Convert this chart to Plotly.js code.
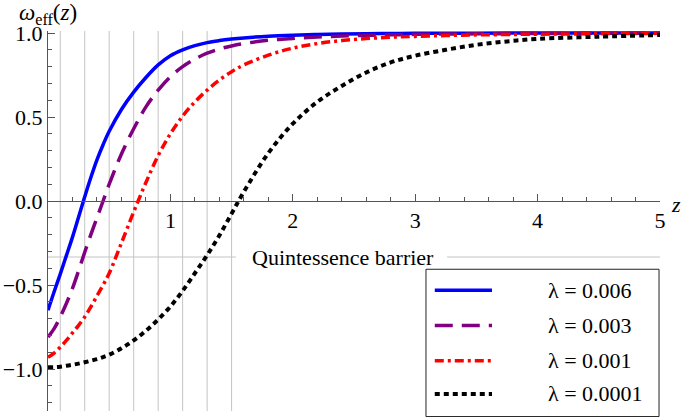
<!DOCTYPE html>
<html>
<head>
<meta charset="utf-8">
<script src="https://cdn.plot.ly/plotly-3.0.1.min.js"></script>
<style>html,body{margin:0;padding:0;background:#fff;}</style>
</head>
<body>
<div id="chart" style="width:685px;height:417px;"></div>
<script>
// ---- data ----
const z = [0,0.05,0.1,0.15,0.2,0.25,0.3,0.35,0.4,0.45,0.5,0.6,0.7,0.8,0.9,1.0,1.1,1.2,1.3,1.4,1.5,1.6,1.8,2.0,2.2,2.4,2.6,2.8,3.0,3.25,3.5,3.75,4.0,4.5,5.0];
const w006 = [-0.65,-0.54,-0.435,-0.325,-0.215,-0.095,0.025,0.14,0.245,0.335,0.415,0.545,0.648,0.735,0.81,0.865,0.9,0.925,0.943,0.955,0.964,0.971,0.981,0.987,0.991,0.994,0.996,0.997,0.998,0.999,0.999,0.9995,1.0,1.0,1.0];
const w003 = [-0.81,-0.76,-0.69,-0.61,-0.52,-0.415,-0.305,-0.20,-0.10,0.0,0.10,0.28,0.43,0.56,0.66,0.74,0.80,0.845,0.88,0.905,0.923,0.937,0.957,0.968,0.976,0.982,0.986,0.989,0.992,0.994,0.995,0.996,0.997,0.998,0.999];
const w001 = [-0.93,-0.905,-0.87,-0.83,-0.785,-0.74,-0.69,-0.63,-0.565,-0.50,-0.43,-0.25,-0.065,0.11,0.27,0.40,0.505,0.59,0.66,0.72,0.77,0.81,0.868,0.91,0.937,0.955,0.967,0.975,0.98,0.985,0.989,0.991,0.993,0.996,0.998];
const w0001 = [-0.99,-0.989,-0.986,-0.981,-0.975,-0.968,-0.96,-0.951,-0.941,-0.929,-0.915,-0.877,-0.83,-0.772,-0.705,-0.628,-0.535,-0.43,-0.322,-0.205,-0.075,0.055,0.285,0.46,0.59,0.685,0.765,0.825,0.865,0.90,0.93,0.95,0.965,0.978,0.988];
const seriesNames = ['λ = 0.006','λ = 0.003','λ = 0.001','λ = 0.0001'];
const xTickVals = [1,2,3,4,5];
const xTickText = ['1','2','3','4','5'];
const yTickVals = [-1,-0.5,0,0.5,1];
const yTickText = ['\u22121.0','\u22120.5','0.0','0.5','1.0'];
const gridZ = [0.1,0.3,0.5,0.7,0.9,1.1,1.3,1.5];
const barrierW = -1/3;
const barrierLabel = 'Quintessence barrier';

// ---- styles ----
const FONT = 'Liberation Serif';
const styles = [
  {color:'#0000ff', width:3.5, dash:'solid'},
  {color:'#800080', width:3.5, dash:'18px,9px'},
  {color:'#ff0000', width:3.5, dash:'9px,4px,3px,4px'},
  {color:'#000000', width:4, dash:'5px,4px'}
];
const seriesData = [w006, w003, w001, w0001];

const traces = seriesData.map((ys, i) => ({
  x: z, y: ys, type:'scatter', mode:'lines', name: seriesNames[i],
  line: {color: styles[i].color, width: styles[i].width, dash: styles[i].dash, shape:'spline', smoothing:1},
  showlegend:false, hoverinfo:'skip'
}));

// legend drawn on an overlay axis pair in paper-like units
const legRows = [0.3175, 0.2249, 0.1323, 0.0450];
const legX0 = 0.632, legX1 = 0.7255, legTextX = 0.8137;
seriesData.forEach((ys, i) => {
  traces.push({
    x:[legX0, legX1], y:[legRows[i], legRows[i]], xaxis:'x2', yaxis:'y2',
    type:'scatter', mode:'lines',
    line:{color: styles[i].color, width: styles[i].width, dash: styles[i].dash},
    showlegend:false, hoverinfo:'skip'
  });
});

const shapes = [];
gridZ.forEach(g => shapes.push({type:'line', xref:'x', yref:'paper', x0:g, x1:g, y0:0, y1:1,
  line:{color:'#c4c4c4', width:1}, layer:'below'}));
shapes.push({type:'line', xref:'x', yref:'y', x0:0, x1:1.535, y0:barrierW, y1:barrierW, line:{color:'#c4c4c4', width:1}, layer:'below'});
shapes.push({type:'line', xref:'x', yref:'y', x0:3.26, x1:5, y0:barrierW, y1:barrierW, line:{color:'#c4c4c4', width:1}, layer:'below'});
shapes.push({type:'rect', xref:'paper', yref:'paper', x0:0.6176, x1:0.9984, y0:-0.0146, y1:0.373,
  line:{color:'#222', width:1}, fillcolor:'rgba(255,255,255,0)', layer:'below'});

const annotations = [
  {text:'<i>ω</i><sub>eff</sub>(<i>z</i>)', xref:'paper', yref:'paper', x:0, y:1, xanchor:'center', yanchor:'bottom',
   yshift:1, showarrow:false, font:{family:FONT, size:23, color:'#000'}},
  {text:'<i>z</i>', xref:'paper', yref:'y', x:1, y:0, xanchor:'left', yanchor:'middle', xshift:9, yshift:-3,
   showarrow:false, font:{family:FONT, size:22, color:'#000'}},
  {text:barrierLabel, xref:'x', yref:'y', x:2.41, y:barrierW, xanchor:'center', yanchor:'middle',
   showarrow:false, font:{family:FONT, size:22, color:'#000'}}
];
seriesNames.forEach((n, i) => annotations.push({
  text:n, xref:'paper', yref:'paper', x:legTextX, y:legRows[i], xanchor:'left', yanchor:'middle',
  showarrow:false, font:{family:FONT, size:22, color:'#000'}
}));

const axisCol = '#555';
const layout = {
  width:685, height:417,
  margin:{l:48, r:25, t:31, b:6, pad:0},
  paper_bgcolor:'#fff', plot_bgcolor:'#fff',
  font:{family:FONT, size:20, color:'#000'},
  showlegend:false,
  xaxis:{
    range:[0,5], anchor:'free', position:1.25/2.262,
    showline:true, linecolor:axisCol, linewidth:1, zeroline:false, showgrid:false,
    tickmode:'array', tickvals:xTickVals, ticktext:xTickText,
    ticks:'inside', ticklen:7, tickwidth:1, tickcolor:axisCol,
    tickfont:{family:FONT, size:22, color:'#000'},
    minor:{tickmode:'linear', tick0:0, dtick:0.2, ticks:'inside', ticklen:4, tickwidth:1, tickcolor:axisCol, showgrid:false},
    fixedrange:true
  },
  yaxis:{
    range:[-1.25,1.012], anchor:'x',
    showline:true, linecolor:axisCol, linewidth:1, zeroline:false, showgrid:false,
    tickmode:'array', tickvals:yTickVals, ticktext:yTickText,
    ticks:'inside', ticklen:7, tickwidth:1, tickcolor:axisCol,
    tickfont:{family:FONT, size:22, color:'#000'},
    minor:{tickmode:'linear', tick0:0, dtick:0.1, ticks:'inside', ticklen:4, tickwidth:1, tickcolor:axisCol, showgrid:false},
    fixedrange:true
  },
  xaxis2:{overlaying:'x', range:[0,1], visible:false, fixedrange:true},
  yaxis2:{overlaying:'y', range:[0,1], visible:false, fixedrange:true},
  shapes: shapes,
  annotations: annotations
};

Plotly.newPlot('chart', traces, layout, {staticPlot:true, displayModeBar:false});
</script>
</body>
</html>
